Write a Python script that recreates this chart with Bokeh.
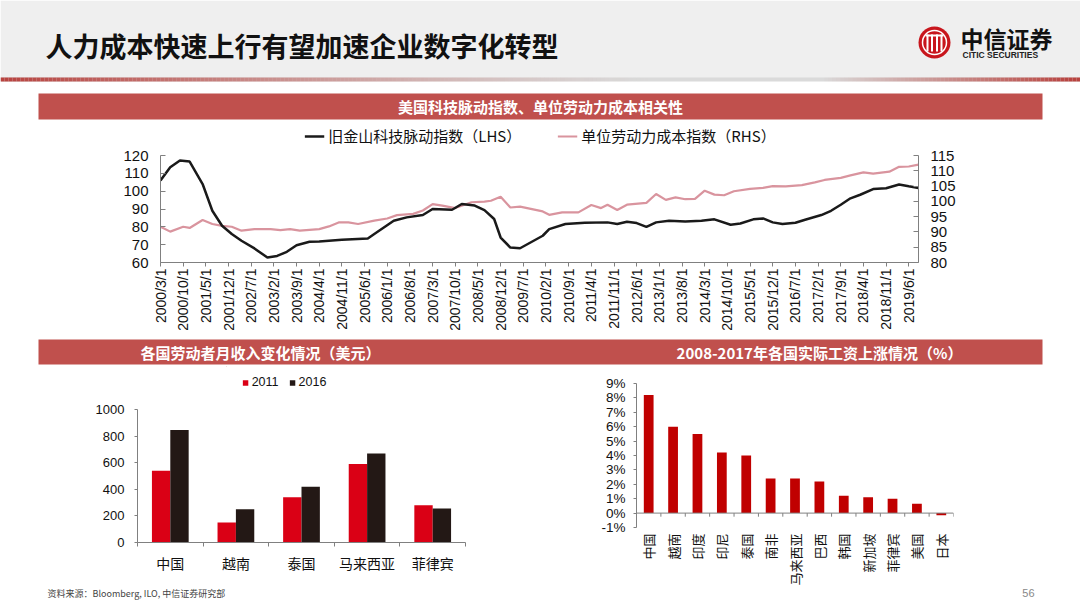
import math
import numpy as np
from bokeh.plotting import figure
from bokeh.models import (Range1d, LinearAxis, FixedTicker, Legend, LegendItem, Span,
                          PrintfTickFormatter, Spacer)
from bokeh.layouts import column, row
from bokeh.embed import file_html
from bokeh.resources import INLINE
from bokeh.core.properties import value

CJK = "Noto Sans CJK SC"
LAT = "Liberation Sans"
AXIS_GRAY = "#808080"
SECTION_RED = "#C0504D"
BLACK_LINE = "#1A1A1A"
PINK_LINE = "#D9949E"
RED_2011 = "#DA0015"
BLACK_2016 = "#231815"

# ---------------- data ----------------
tick_labels = ["2000/3/1", "2000/10/1", "2001/5/1", "2001/12/1", "2002/7/1", "2003/2/1",
               "2003/9/1", "2004/4/1", "2004/11/1", "2005/6/1", "2006/1/1", "2006/8/1",
               "2007/3/1", "2007/10/1", "2008/5/1", "2008/12/1", "2009/7/1", "2010/2/1",
               "2010/9/1", "2011/4/1", "2011/11/1", "2012/6/1", "2013/1/1", "2013/8/1",
               "2014/3/1", "2014/10/1", "2015/5/1", "2015/12/1", "2016/7/1", "2017/2/1",
               "2017/9/1", "2018/4/1", "2018/11/1", "2019/6/1"]

# months since 2000/3
lhs_month = [0, 3, 6, 9, 13, 16, 19, 22, 25, 29, 33, 36, 39, 42, 46, 49, 56, 64, 66, 72,
             76, 81, 84, 90, 93, 97, 100, 103, 105, 108, 111, 118, 120, 125, 131, 138, 141, 144, 147, 150,
             153, 157, 162, 167, 171, 176, 179, 183, 186, 189, 192, 196, 199, 204, 207, 210, 213, 216, 220, 224,
             228, 231, 234]
lhs_value = [106, 113.4, 117.2, 116.6, 104, 89, 80.6, 76, 72.2, 67.9, 62.8, 63.7, 66, 69.7, 71.6, 71.8, 72.7, 73.5, 76, 83.4,
             85.3, 86.6, 90, 89.6, 92.8, 91.9, 89.4, 84.4, 74, 68.4, 68, 75, 78.7, 81.6, 82.3, 82.5, 81.6, 82.9, 82.1, 80,
             82.5, 83.4, 83, 83.4, 84.2, 81.2, 81.9, 84.2, 84.7, 82.5, 81.6, 82.3, 84, 86.6, 89, 92.4, 96, 98, 101.2, 101.6,
             103.7, 102.7, 101.8]

rhs_month = [0, 3, 7, 9, 13, 16, 19, 22, 25, 29, 34, 37, 40, 43, 49, 52, 55, 58, 61, 66,
             70, 73, 78, 81, 84, 87, 91, 96, 100, 102, 105, 108, 111, 118, 120, 124, 129, 133, 136, 138,
             141, 144, 150, 153, 156, 159, 162, 165, 168, 171, 174, 177, 182, 186, 189, 193, 198, 202, 205, 210,
             213, 217, 220, 225, 228, 231, 234]
rhs_value = [91.7, 90.1, 91.7, 91.3, 93.9, 92.6, 92, 91.7, 90.4, 90.9, 90.9, 90.6, 90.9, 90.4, 90.9, 91.8, 93.1, 93.1, 92.6, 93.7,
             94.4, 95.5, 95.9, 97, 99.1, 98.6, 97.8, 99.7, 99.9, 100.2, 101.5, 98, 98.3, 96.7, 95.6, 96.4, 96.4, 98.8, 97.8, 98.9,
             97.2, 98.9, 99.5, 102.4, 100.5, 101.3, 100.7, 100.8, 103.5, 102.2, 102, 103.3, 104.1, 104.4, 105, 104.9, 105.3, 106.2, 107, 107.7,
             108.5, 109.5, 109.1, 109.7, 111.3, 111.4, 112]

lhs_name = "旧金山科技脉动指数（LHS）"
rhs_name = "单位劳动力成本指数（RHS）"

wage_countries = ["中国", "越南", "泰国", "马来西亚", "菲律宾"]
wage_years = ["2011", "2016"]
wage_2011 = [540, 150, 340, 590, 280]
wage_2016 = [845, 250, 420, 670, 255]

growth_countries = ["中国", "越南", "印度", "印尼", "泰国", "南非", "马来西亚", "巴西",
                    "韩国", "新加坡", "菲律宾", "美国", "日本"]
growth_pct = [8.2, 6.0, 5.5, 4.2, 4.0, 2.4, 2.4, 2.2, 1.2, 1.1, 1.0, 0.65, -0.15]

title_text = "人力成本快速上行有望加速企业数字化转型"
section1 = "美国科技脉动指数、单位劳动力成本相关性"
section2 = "各国劳动者月收入变化情况（美元）"
section3 = "2008-2017年各国实际工资上涨情况（%）"
source_text = "资料来源：Bloomberg, ILO, 中信证券研究部"
page_no = "56"


def blank(w, h, x0, y_top, y_bot):
    f = figure(width=w, height=h, x_range=Range1d(x0, x0 + w), y_range=Range1d(y_bot, y_top),
               output_backend="svg", toolbar_location=None, x_axis_type=None, y_axis_type=None,
               min_border=0, outline_line_color=None, background_fill_color="white",
               border_fill_color="white", frame_align=False)
    f.xgrid.visible = False
    f.ygrid.visible = False
    return f


def style_axis(ax, size="13px", font=LAT):
    ax.axis_line_color = AXIS_GRAY
    ax.major_tick_line_color = AXIS_GRAY
    ax.minor_tick_line_color = None
    ax.major_label_text_font = font
    ax.major_label_text_font_size = size
    ax.major_label_text_color = "#111111"


# ---------------- header (page y 0..124) ----------------
hdr = blank(1080, 124, 0, 0, 124)
hdr.quad(left=0, right=1080, top=0, bottom=78, fill_color="#EFEFEF", line_color=None)
hdr.quad(left=0, right=1080, top=77, bottom=81, fill_color="#DADADA", line_color=None)
xs = np.arange(0, 1080, 4)
a_left = np.clip(1 - xs / 650.0, 0, 1) ** 1.3
a_right = np.clip((xs - 820) / 250.0, 0, 1)
hdr.quad(left=xs, right=xs + 4, top=77, bottom=81, fill_color="#B8433F",
         fill_alpha=np.maximum(a_left, a_right), line_color=None)
hdr.text(x=[45], y=[45], text=[title_text], text_font=value(CJK), text_font_style="bold",
         text_font_size="27px", text_color="#111111", text_align="left", text_baseline="middle")
# logo
hdr.circle(x=[934], y=[42], radius=16, fill_color="#C8161D", line_color=None)
hdr.circle(x=[934], y=[42], radius=12, fill_color=None, line_color="white", line_width=1.5)
hdr.quad(left=[926, 930.5, 935.5, 940], right=[928, 932.5, 937.5, 942], top=34, bottom=51,
         fill_color="white", line_color=None)
hdr.quad(left=925, right=943, top=34, bottom=36, fill_color="white", line_color=None)
hdr.text(x=[960], y=[37], text=["中信证券"], text_font=value(CJK), text_font_style="bold",
         text_font_size="23px", text_color="#111111", text_align="left", text_baseline="middle")
hdr.text(x=[962], y=[54], text=["CITIC SECURITIES"], text_font=value(LAT), text_font_style="bold",
         text_font_size="8.5px", text_color="#222222", text_align="left", text_baseline="middle")
# section bar 1
hdr.quad(left=38, right=1042, top=93, bottom=119, fill_color=SECTION_RED, line_color=None)
hdr.text(x=[540], y=[106], text=[section1], text_font=value(CJK), text_font_style="bold",
         text_font_size="15px", text_color="white", text_align="center", text_baseline="middle")

# ---------------- top chart legend strip (124..146) ----------------
leg1s = blank(1080, 22, 0, 124, 146)
# legend sample renderers (kept outside the visible range)
d_l = leg1s.line(x=[-50, -40], y=[-50, -50], line_color=BLACK_LINE, line_width=2.5)
d_r = leg1s.line(x=[-50, -40], y=[-50, -50], line_color=PINK_LINE, line_width=2.2)
leg1 = Legend(items=[LegendItem(label=lhs_name, renderers=[d_l]),
                     LegendItem(label=rhs_name, renderers=[d_r])],
              orientation="horizontal", location="bottom_center", label_text_font=CJK,
              label_text_font_size="15px", label_text_color="#111111", glyph_width=20,
              spacing=36, padding=0, margin=0, border_line_color=None,
              background_fill_alpha=0, label_standoff=4, label_height=18, glyph_height=18)
leg1s.add_layout(leg1)

# ---------------- top chart (146..335) ----------------
tick_pos = [(int(s.split("/")[0]) - 2000) * 12 + int(s.split("/")[1]) - 3 for s in tick_labels]

p1 = figure(width=1080, height=189, x_range=Range1d(0, 234), y_range=Range1d(60, 120),
            output_backend="svg", toolbar_location=None, min_border_left=160, min_border_right=162,
            min_border_top=9, min_border_bottom=73, outline_line_color=None,
            background_fill_color="white", border_fill_color="white", frame_align=False)
p1.xgrid.visible = False
p1.ygrid.visible = False
p1.extra_y_ranges = {"rhs": Range1d(80, 115)}
p1.line(rhs_month, rhs_value, y_range_name="rhs", line_color=PINK_LINE, line_width=2.2)
p1.line(lhs_month, lhs_value, line_color=BLACK_LINE, line_width=2.5)

p1.yaxis.ticker = FixedTicker(ticks=list(range(60, 121, 10)))
style_axis(p1.yaxis[0], "15px")
p1.yaxis.major_tick_in = 5
p1.yaxis.major_tick_out = 0
p1.yaxis.major_label_standoff = 12

ax_r = LinearAxis(y_range_name="rhs", ticker=FixedTicker(ticks=list(range(80, 116, 5))))
style_axis(ax_r, "15px")
ax_r.major_tick_in = 5
ax_r.major_tick_out = 0
ax_r.major_label_standoff = 12
p1.add_layout(ax_r, "right")

p1.xaxis.ticker = FixedTicker(ticks=tick_pos)
p1.xaxis.major_label_overrides = {t: s for t, s in zip(tick_pos, tick_labels)}
p1.xaxis.major_label_orientation = math.pi / 2
style_axis(p1.xaxis[0], "14px")
p1.xaxis.major_tick_in = 0
p1.xaxis.major_tick_out = 4
p1.xaxis.major_label_standoff = 2

# ---------------- section bar 2 (335..366) ----------------
bar2 = blank(1080, 31, 0, 335, 366)
bar2.quad(left=38, right=1042, top=339, bottom=364, fill_color=SECTION_RED, line_color=None)
bar2.text(x=[260, 819], y=[351.5, 351.5], text=[section2, section3], text_font=value(CJK),
          text_font_style="bold", text_font_size="15px", text_color="white",
          text_align="center", text_baseline="middle")

# ---------------- bottom left legend strip (366..398) ----------------
leg2s = blank(116, 32, 0, 0, 32)
d_b1 = leg2s.vbar(x=[-50], top=[-50], bottom=[-60], width=0.5, fill_color=RED_2011, line_color=None)
d_b2 = leg2s.vbar(x=[-50], top=[-50], bottom=[-60], width=0.5, fill_color=BLACK_2016, line_color=None)
leg2 = Legend(items=[LegendItem(label=wage_years[0], renderers=[d_b1]),
                     LegendItem(label=wage_years[1], renderers=[d_b2])],
              orientation="horizontal", location="center", label_text_font=LAT,
              label_text_font_size="12.5px", label_text_color="#111111", glyph_width=7,
              glyph_height=7, spacing=10, padding=0, margin=0, border_line_color=None,
              background_fill_alpha=0, label_standoff=3, label_height=16)
leg2s.add_layout(leg2)

# ---------------- bottom left chart (398..588) ----------------
n_w = len(wage_countries)
p2 = figure(width=540, height=190, x_range=Range1d(0, n_w), y_range=Range1d(0, 1000),
            output_backend="svg", toolbar_location=None, min_border_left=137, min_border_right=75,
            min_border_top=11, min_border_bottom=46, outline_line_color=None,
            background_fill_color="white", border_fill_color="white", frame_align=False)
p2.xgrid.visible = False
p2.ygrid.visible = False
centers = np.arange(n_w) + 0.5
bw = 0.28
p2.vbar(x=centers - bw / 2, top=wage_2011, width=bw, fill_color=RED_2011, line_color=None)
p2.vbar(x=centers + bw / 2, top=wage_2016, width=bw, fill_color=BLACK_2016, line_color=None)
p2.yaxis.ticker = FixedTicker(ticks=list(range(0, 1001, 200)))
style_axis(p2.yaxis[0], "13px")
p2.yaxis.major_tick_in = 0
p2.yaxis.major_tick_out = 3
p2.yaxis.major_label_standoff = 10
p2.xaxis.ticker = FixedTicker(ticks=list(centers), minor_ticks=list(np.arange(n_w + 1)))
p2.xaxis.major_label_overrides = {float(c): s for c, s in zip(centers, wage_countries)}
style_axis(p2.xaxis[0], "14px", CJK)
p2.xaxis.major_tick_line_color = None
p2.xaxis.major_tick_in = 0
p2.xaxis.major_tick_out = 0
p2.xaxis.minor_tick_line_color = AXIS_GRAY
p2.xaxis.minor_tick_in = 0
p2.xaxis.minor_tick_out = 4
p2.xaxis.major_label_standoff = 6

left_col = column(row(Spacer(width=226, height=32), leg2s, spacing=0), p2, spacing=0)

# ---------------- bottom right chart (366..588) ----------------
n_g = len(growth_countries)
p3 = figure(width=540, height=222, x_range=Range1d(0, n_g), y_range=Range1d(-1, 9),
            output_backend="svg", toolbar_location=None, min_border_left=96, min_border_right=127,
            min_border_top=17, min_border_bottom=60, outline_line_color=None,
            background_fill_color="white", border_fill_color="white", frame_align=False)
p3.xgrid.visible = False
p3.ygrid.visible = False
gcenters = np.arange(n_g) + 0.5
p3.vbar(x=gcenters, top=growth_pct, bottom=0, width=0.4, fill_color="#C00000", line_color=None)
p3.add_layout(Span(location=0, dimension="width", line_color=AXIS_GRAY, line_width=1))
bounds = np.arange(n_g + 1)
p3.segment(x0=bounds, y0=0, x1=bounds, y1=-0.25, line_color=AXIS_GRAY, line_width=1)
p3.yaxis.ticker = FixedTicker(ticks=list(range(-1, 10)))
p3.yaxis.formatter = PrintfTickFormatter(format="%d%%")
style_axis(p3.yaxis[0], "13.5px")
p3.yaxis.major_tick_in = 0
p3.yaxis.major_tick_out = 3
p3.yaxis.major_label_standoff = 8
p3.xaxis.ticker = FixedTicker(ticks=list(gcenters))
p3.xaxis.major_label_overrides = {float(c): s for c, s in zip(gcenters, growth_countries)}
p3.xaxis.major_label_orientation = math.pi / 2
style_axis(p3.xaxis[0], "13px", CJK)
p3.xaxis.axis_line_color = None
p3.xaxis.major_tick_line_color = None
p3.xaxis.major_tick_in = 0
p3.xaxis.major_tick_out = 0
p3.xaxis.major_label_standoff = 6

# ---------------- footer (588..608) ----------------
foot = blank(1080, 20, 0, 588, 608)
foot.text(x=[47], y=[593], text=[source_text], text_font=value(CJK), text_font_size="9px",
          text_color="#444444", text_align="left", text_baseline="middle")
foot.text(x=[1034], y=[592], text=[page_no], text_font=value(LAT), text_font_size="11px",
          text_color="#888888", text_align="right", text_baseline="middle")

layout = column(hdr, leg1s, p1, bar2, row(left_col, p3, spacing=0), foot, spacing=0)
open("out.html", "w").write(file_html(layout, INLINE))
